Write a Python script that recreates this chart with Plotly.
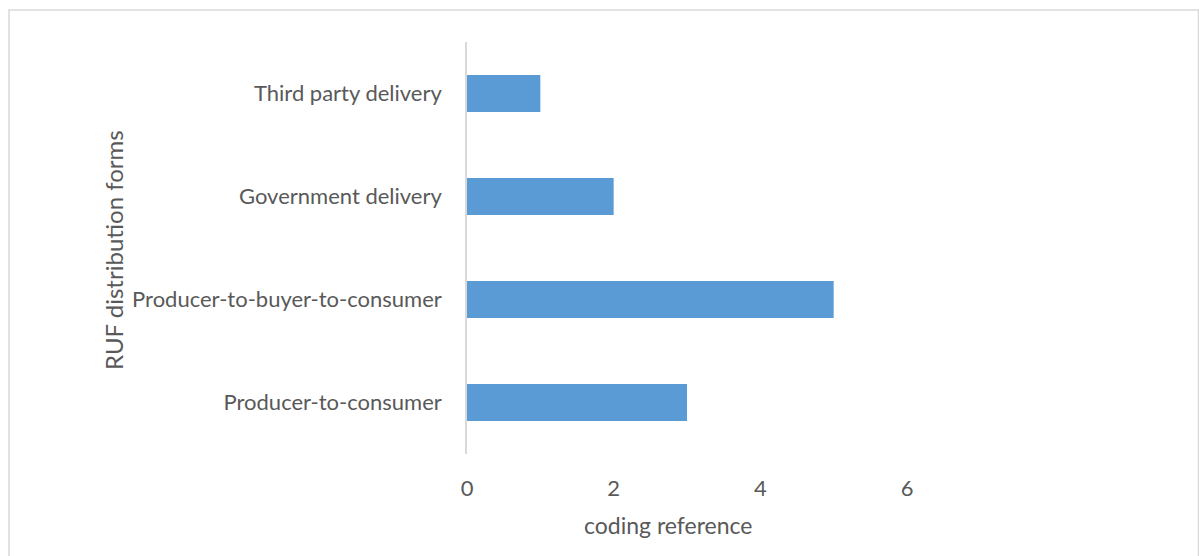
import plotly.graph_objects as go

categories = ["Producer-to-consumer", "Producer-to-buyer-to-consumer",
              "Government delivery", "Third party delivery"]
values = [3, 5, 2, 1]
x_ticks = [0, 2, 4, 6]
x_title = "coding reference"
y_title = "RUF distribution forms"

W, H = 1199, 556
ML, MR, MT, MB = 467, 72, 42, 102
PW = W - ML - MR
PH = H - MT - MB

def px_x(p):
    return (p - ML) / PW

def px_y(p):
    return (H - MB - p) / PH

fig = go.Figure(go.Bar(
    y=categories, x=values, orientation="h",
    marker=dict(color="#5B9BD5", line=dict(width=0)),
))

font = "Lato, 'Open Sans', sans-serif"
grey = "#595959"
fig.update_layout(
    width=W, height=H,
    margin=dict(l=ML, r=MR, t=MT, b=MB, pad=0),
    paper_bgcolor="white", plot_bgcolor="white",
    bargap=0.64, showlegend=False,
    font=dict(family=font, color=grey, size=22),
    xaxis=dict(range=[0, 9], tickvals=x_ticks, showgrid=False, zeroline=False,
               showline=False, ticks="", ticklabelstandoff=19,
               tickfont=dict(size=22, color=grey)),
    yaxis=dict(range=[-0.5, 3.5], showgrid=False, zeroline=False,
               showline=True, linecolor="#D9D9D9", linewidth=1.5, ticks="",
               ticklabelstandoff=19,
               tickfont=dict(size=22, color=grey)),
    annotations=[
        dict(text=x_title, xref="paper", yref="paper", x=px_x(668), y=px_y(525),
             xanchor="center", yanchor="middle", showarrow=False,
             font=dict(size=23, color=grey, family=font)),
        dict(text=y_title, xref="paper", yref="paper", x=px_x(113), y=px_y(250),
             xanchor="center", yanchor="middle", showarrow=False, textangle=-90,
             font=dict(size=24, color=grey, family=font)),
    ],
    shapes=[dict(type="rect", xref="paper", yref="paper",
                 x0=px_x(9), x1=px_x(1198.5),
                 y0=px_y(600), y1=px_y(10),
                 line=dict(color="#D9D9D9", width=1.5), fillcolor="rgba(0,0,0,0)", layer="below")],
)

fig.write_html("out.html")
